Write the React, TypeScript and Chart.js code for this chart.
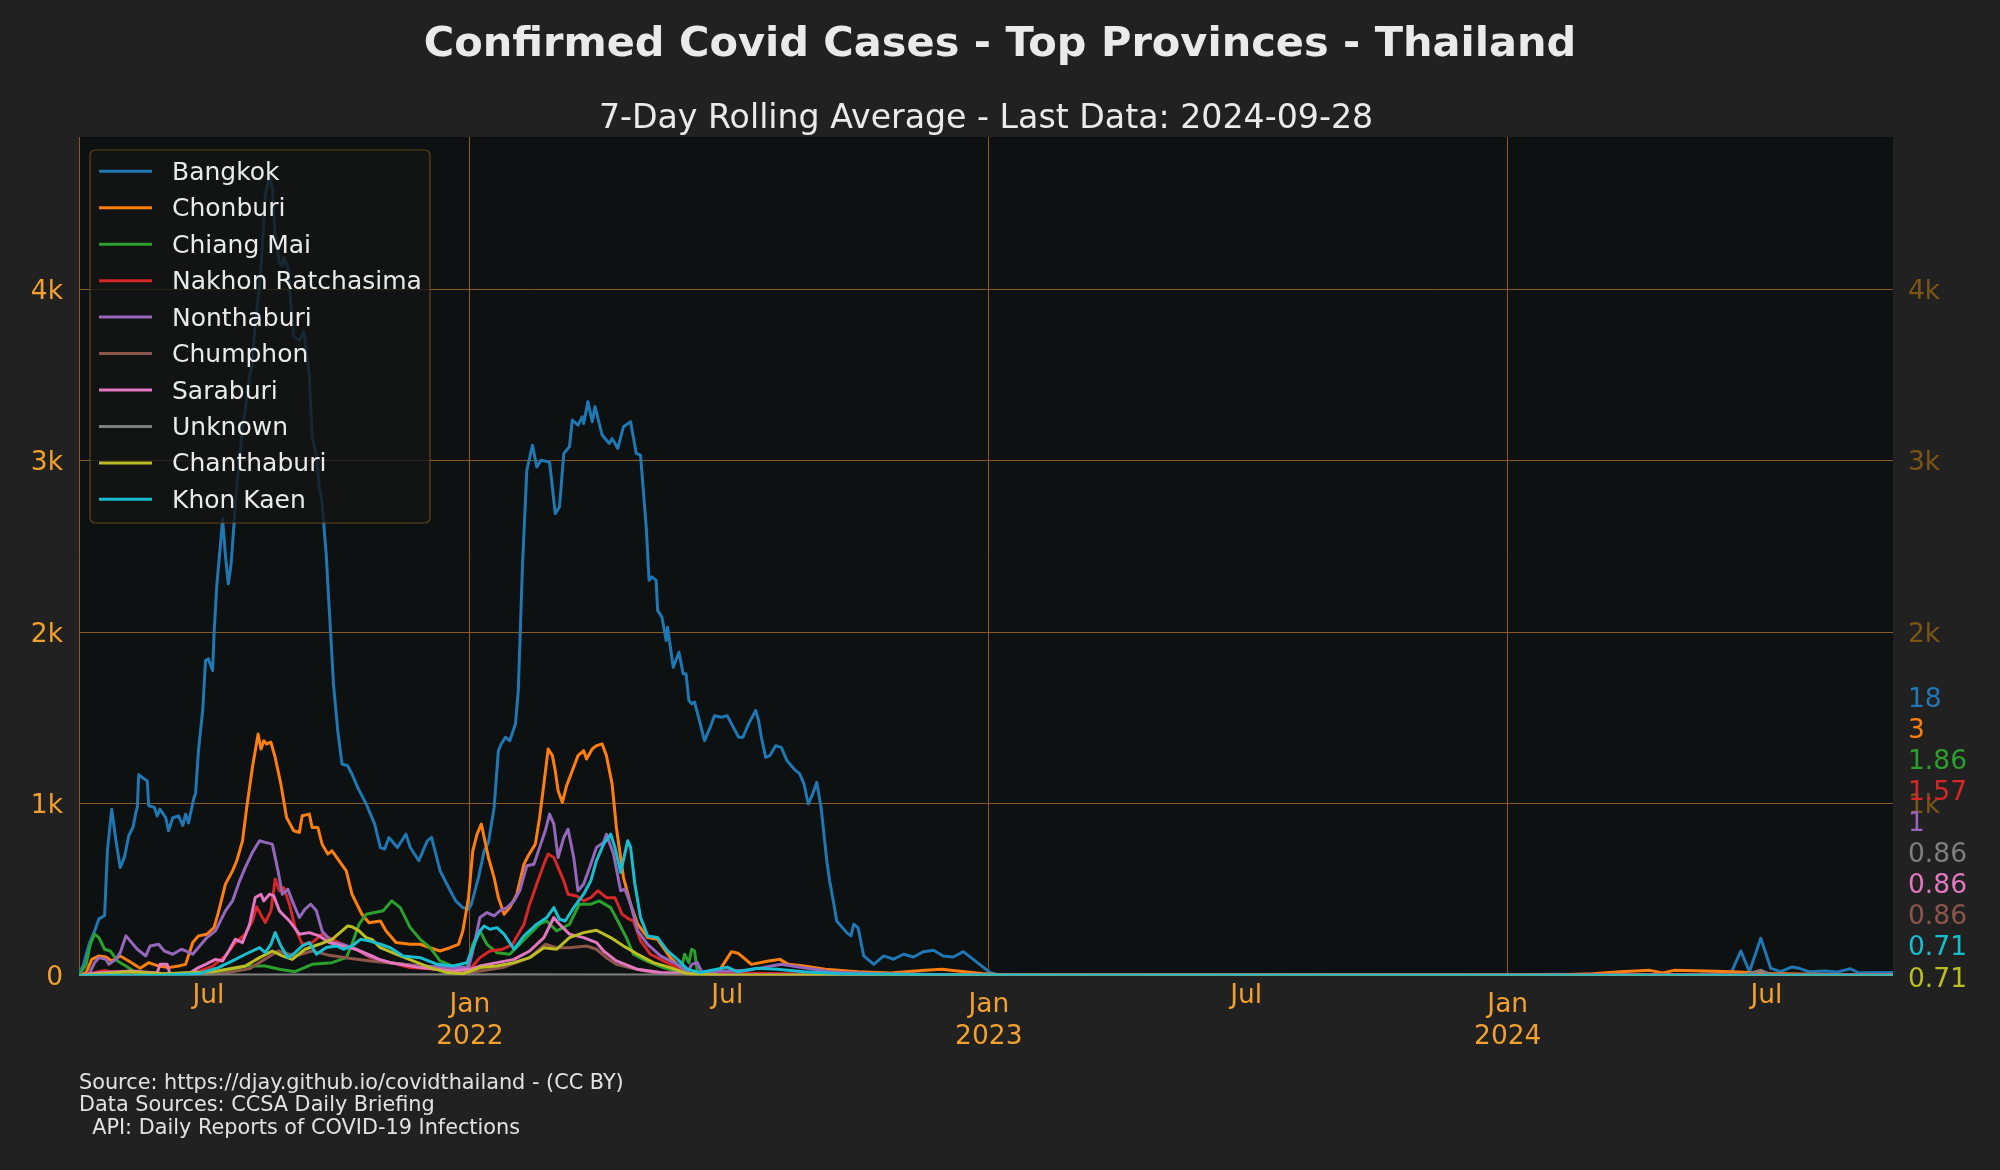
import React, { useEffect, useRef } from 'react';
import { Chart, registerables } from 'chart.js';

Chart.register(...registerables);

// ---------------- DATA ----------------
// x values are days since 2021-04-01 (first data day); last data day 2024-09-28 = day 1276
const START_DATE = '2021-04-01';
const LAST_DAY = 1276;

const seriesNames = ['Bangkok', 'Chonburi', 'Chiang Mai', 'Nakhon Ratchasima', 'Nonthaburi', 'Chumphon', 'Saraburi', 'Unknown', 'Chanthaburi', 'Khon Kaen'];
const seriesColors = ['#1f77b4', '#ff7f0e', '#2ca02c', '#d62728', '#9467bd', '#8c564b', '#e377c2', '#7f7f7f', '#bcbd22', '#17becf'];

// [day, 7-day average cases]
const bangkok = [[0,10],[3,60],[7,180],[11,260],[14,330],[18,350],[20,730],[23,970],[26,785],[29,630],[32,690],[35,815],[38,865],[40,950],[41,980],[42,1170],[46,1146],[48,1136],[49,990],[53,980],[55,930],[57,970],[61,920],[63,845],[66,920],[70,930],[73,875],[75,940],[77,890],[81,1040],[82,1060],[84,1310],[87,1545],[89,1836],[91,1846],[94,1778],[95,1994],[97,2284],[100,2560],[101,2662],[103,2450],[105,2284],[107,2400],[109,2629],[111,2853],[115,3184],[117,3300],[120,3495],[122,3573],[124,3806],[127,4020],[129,4254],[131,4546],[134,4663],[136,4585],[138,4313],[141,4157],[143,4137],[144,4186],[147,4128],[149,3917],[151,3723],[155,3703],[158,3752],[159,3703],[162,3495],[164,3145],[167,3028],[169,2853],[171,2755],[174,2443],[175,2286],[177,1994],[179,1700],[182,1428],[185,1233],[189,1223],[192,1175],[196,1097],[202,1000],[205,941],[208,883],[212,746],[215,737],[218,805],[224,746],[230,824],[233,746],[239,669],[245,785],[248,805],[254,610],[260,513],[265,435],[270,396],[274,386],[276,416],[281,571],[285,727],[288,775],[292,980],[295,1311],[297,1350],[300,1389],[303,1369],[307,1467],[309,1661],[312,2401],[315,2946],[319,3092],[322,2965],[325,3004],[331,2994],[335,2693],[338,2732],[341,3044],[345,3083],[347,3239],[351,3209],[354,3258],[355,3219],[358,3346],[361,3229],[363,3317],[368,3151],[373,3102],[375,3131],[379,3073],[383,3200],[388,3229],[392,3044],[395,3034],[399,2615],[401,2304],[403,2324],[406,2304],[407,2129],[410,2090],[413,1953],[414,2031],[418,1797],[422,1885],[425,1759],[427,1759],[429,1603],[431,1584],[433,1594],[437,1467],[440,1369],[444,1447],[447,1515],[452,1506],[456,1515],[459,1467],[464,1389],[467,1389],[471,1467],[476,1545],[478,1487],[480,1389],[483,1272],[486,1282],[490,1340],[494,1330],[498,1253],[503,1204],[507,1175],[510,1116],[513,1000],[516,1058],[519,1126],[522,980],[526,669],[528,552],[531,416],[533,318],[537,279],[540,250],[543,231],[545,299],[548,279],[552,114],[559,65],[566,114],[573,95],[580,124],[587,108],[594,139],[601,147],[608,114],[615,108],[622,139],[641,17],[648,2],[700,1],[800,1],[900,1],[1000,2],[1038,8],[1060,4],[1100,6],[1140,8],[1162,14],[1169,143],[1175,22],[1183,217],[1190,42],[1197,22],[1205,50],[1210,42],[1217,22],[1228,26],[1237,20],[1246,39],[1252,16],[1276,18]];

const chonburi = [[0,0],[5,17],[9,94],[14,114],[19,108],[23,85],[29,114],[35,85],[43,42],[49,75],[56,55],[63,46],[70,55],[75,65],[80,192],[84,231],[90,241],[95,280],[98,367],[103,533],[108,610],[111,669],[115,785],[118,980],[122,1214],[126,1408],[128,1321],[130,1369],[132,1350],[135,1360],[138,1272],[142,1116],[146,921],[151,844],[155,834],[157,931],[162,941],[164,863],[168,863],[171,766],[175,708],[178,727],[183,669],[188,610],[192,474],[199,357],[204,308],[212,318],[216,260],[223,192],[233,182],[240,182],[247,162],[254,143],[261,162],[267,182],[270,260],[274,454],[277,727],[280,824],[283,883],[286,766],[288,688],[292,571],[295,454],[299,357],[303,396],[308,474],[313,649],[316,698],[321,766],[324,921],[327,1116],[330,1321],[333,1282],[335,1194],[337,1077],[340,1009],[343,1107],[347,1194],[351,1282],[355,1311],[357,1262],[361,1321],[364,1340],[368,1350],[371,1282],[375,1116],[378,863],[383,571],[388,416],[393,299],[400,221],[407,211],[411,162],[416,104],[423,46],[430,12],[445,12],[451,36],[459,139],[464,128],[473,65],[485,85],[493,94],[499,65],[510,55],[525,36],[548,22],[571,15],[595,30],[607,36],[618,26],[635,11],[650,3],[700,2],[900,2],[1000,3],[1040,5],[1065,10],[1084,22],[1105,30],[1114,15],[1122,30],[1145,26],[1163,22],[1190,12],[1230,6],[1276,3]];

const chiangMai = [[0,0],[5,65],[8,182],[11,241],[14,221],[18,153],[22,143],[27,85],[33,55],[39,22],[47,7],[70,5],[95,8],[105,22],[117,55],[131,55],[141,36],[152,22],[164,65],[178,75],[188,104],[192,182],[197,299],[202,357],[208,367],[214,377],[220,435],[226,396],[233,279],[240,211],[247,162],[254,85],[263,55],[273,46],[277,182],[282,260],[287,182],[294,133],[303,124],[310,182],[317,241],[324,299],[329,318],[336,260],[345,299],[352,416],[360,416],[366,435],[374,396],[379,318],[385,221],[390,124],[399,85],[411,46],[423,17],[426,124],[429,75],[431,153],[433,143],[435,20],[445,12],[480,8],[550,5],[650,2],[1100,2],[1276,1.86]];

const nakhonRatchasima = [[0,0],[10,15],[18,30],[22,22],[40,15],[70,10],[84,22],[94,55],[103,114],[110,192],[117,241],[122,319],[125,400],[129,338],[131,309],[135,377],[138,562],[141,494],[144,513],[148,416],[152,280],[157,182],[164,192],[171,241],[178,211],[188,172],[197,143],[205,104],[219,75],[233,46],[252,36],[275,36],[282,104],[289,143],[298,153],[305,182],[313,299],[317,416],[322,533],[327,649],[330,708],[334,688],[337,630],[341,552],[344,474],[350,464],[355,435],[360,454],[365,494],[371,454],[377,454],[382,357],[387,328],[390,318],[395,202],[402,124],[411,85],[421,46],[430,7],[450,15],[500,10],[550,5],[650,2],[1100,3],[1276,1.57]];

const nonthaburi = [[0,0],[7,7],[11,75],[14,104],[19,94],[21,65],[26,94],[29,133],[33,231],[36,202],[41,153],[47,114],[50,172],[56,182],[60,143],[66,124],[72,153],[75,143],[80,124],[84,163],[90,221],[96,260],[103,377],[108,435],[113,552],[117,630],[122,718],[127,786],[131,776],[136,766],[140,610],[143,474],[147,503],[150,435],[155,338],[159,387],[163,416],[167,377],[171,260],[178,192],[185,182],[195,153],[204,114],[211,94],[219,75],[240,55],[263,46],[274,46],[277,143],[282,338],[287,367],[292,348],[296,377],[301,396],[306,435],[310,494],[315,640],[320,649],[324,747],[328,844],[331,941],[334,883],[337,688],[341,805],[344,853],[348,688],[351,494],[355,533],[360,649],[364,747],[369,776],[371,824],[376,708],[381,494],[384,503],[388,416],[393,260],[400,182],[409,114],[421,65],[428,17],[431,65],[435,75],[438,20],[450,25],[470,30],[494,65],[510,45],[530,20],[560,10],[650,2],[1100,2],[1276,1]];

const chumphon = [[0,0],[50,3],[100,10],[120,40],[140,143],[152,114],[164,143],[175,120],[190,100],[205,85],[228,65],[251,36],[275,17],[298,46],[317,104],[328,182],[336,162],[345,162],[357,172],[364,153],[371,104],[378,65],[392,36],[411,7],[500,2],[1276,0.86]];

const saraburi = [[0,0],[12,15],[37,26],[55,15],[57,65],[62,65],[64,10],[78,15],[84,46],[89,65],[96,94],[101,85],[106,153],[110,211],[115,192],[120,299],[124,455],[128,474],[130,435],[134,474],[137,464],[141,377],[148,318],[155,241],[162,250],[169,231],[176,192],[185,172],[195,153],[206,114],[211,94],[219,75],[240,46],[263,26],[275,36],[282,55],[294,75],[306,94],[317,143],[327,221],[334,338],[338,299],[345,241],[355,221],[364,192],[369,143],[378,85],[393,36],[409,17],[450,5],[1276,0.86]];

const unknown = [[0,0],[100,3],[300,5],[400,3],[500,1],[1000,1],[1160,2],[1172,6],[1183,30],[1190,5],[1276,0.86]];

const chanthaburi = [[0,0],[35,22],[60,10],[94,22],[117,55],[127,104],[136,143],[143,114],[150,94],[159,153],[169,182],[178,211],[185,260],[189,289],[192,284],[197,260],[202,221],[206,211],[212,162],[223,124],[235,85],[247,46],[259,17],[270,10],[282,46],[294,55],[306,75],[317,104],[327,162],[336,153],[345,221],[355,250],[364,264],[374,221],[383,172],[393,124],[404,75],[416,46],[428,10],[450,3],[1276,0.71]];

const khonKaen = [[0,0],[60,3],[84,10],[98,46],[108,85],[117,124],[127,163],[131,133],[135,182],[138,250],[142,172],[147,104],[152,133],[157,172],[162,192],[167,124],[174,163],[181,172],[186,153],[192,172],[198,211],[204,202],[212,182],[219,162],[228,114],[240,104],[252,65],[263,55],[273,75],[277,162],[282,260],[285,289],[289,270],[294,279],[299,241],[306,153],[313,231],[322,299],[329,338],[334,396],[338,328],[342,318],[348,396],[355,474],[360,552],[364,669],[369,766],[374,824],[377,747],[381,601],[386,786],[388,747],[391,533],[395,338],[400,231],[407,221],[414,143],[421,94],[428,36],[437,17],[456,49],[463,22],[477,42],[491,36],[510,22],[535,10],[600,4],[650,1],[1276,0.71]];

const seriesData = [bangkok, chonburi, chiangMai, nakhonRatchasima, nonthaburi, chumphon, saraburi, unknown, chanthaburi, khonKaen];

// x ticks: days since START_DATE
const xTickDays = [91, 275, 456, 640, 821, 1005, 1187];
const xTickMonths = ['Jul', 'Jan', 'Jul', 'Jan', 'Jul', 'Jan', 'Jul'];
const xTickYears = ['', '2022', '', '2023', '', '2024', ''];
const yTickValues = [0, 1000, 2000, 3000, 4000];
const rightTickValues = [1000, 2000, 3000, 4000];
const Y_MAX = 4889;

const titleText = 'Confirmed Covid Cases - Top Provinces - Thailand';
const subtitleText = '7-Day Rolling Average - Last Data: 2024-09-28';
const footerLines = ['Source: https://djay.github.io/covidthailand - (CC BY)', 'Data Sources: CCSA Daily Briefing', '  API: Daily Reports of COVID-19 Infections'];

// ---------------- STYLE ----------------
const FONT = '"DejaVu Sans", "Liberation Sans", sans-serif';
const FIG_BG = '#212121';
const PLOT_BG = '#0d1111';
const TICK_COLOR = '#f2a02e';
const RIGHT_TICK_COLOR = '#7a5616';
const GRID_COLOR = '#8a5a1e';
const TEXT_COLOR = '#eaeaea';
const TICK_SIZE = 26.5;

function fmtLast(v: number): string {
  return String(Math.round(v * 100) / 100);
}

const decorPlugin = {
  id: 'decor',
  beforeDraw(chart: any) {
    const { ctx, chartArea } = chart;
    ctx.save();
    ctx.fillStyle = FIG_BG;
    ctx.fillRect(0, 0, chart.width, chart.height);
    ctx.fillStyle = PLOT_BG;
    ctx.fillRect(chartArea.left, chartArea.top, chartArea.right - chartArea.left, chartArea.bottom - chartArea.top);
    ctx.restore();
  },
  afterDatasetsDraw(chart: any) {
    const { ctx } = chart;
    // legend
    const bx = 90, by = 150, bw = 340, bh = 373, r = 5;
    ctx.save();
    ctx.beginPath();
    ctx.moveTo(bx + r, by);
    ctx.arcTo(bx + bw, by, bx + bw, by + bh, r);
    ctx.arcTo(bx + bw, by + bh, bx, by + bh, r);
    ctx.arcTo(bx, by + bh, bx, by, r);
    ctx.arcTo(bx, by, bx + bw, by, r);
    ctx.closePath();
    ctx.fillStyle = 'rgba(20,20,20,0.8)';
    ctx.fill();
    ctx.strokeStyle = 'rgba(120,80,25,0.8)';
    ctx.lineWidth = 1.2;
    ctx.stroke();
    ctx.font = `25px ${FONT}`;
    ctx.textAlign = 'left';
    ctx.textBaseline = 'alphabetic';
    seriesNames.forEach((name, i) => {
      const ry = 171.3 + i * 36.45;
      ctx.strokeStyle = seriesColors[i];
      ctx.lineWidth = 3;
      ctx.beginPath();
      ctx.moveTo(99, ry);
      ctx.lineTo(152, ry);
      ctx.stroke();
      ctx.fillStyle = TEXT_COLOR;
      ctx.fillText(name, 172, ry + 8.5);
    });
    ctx.restore();
  },
  afterDraw(chart: any) {
    const { ctx, chartArea } = chart;
    const xs = chart.scales.x;
    const ys = chart.scales.y;
    ctx.save();
    // titles
    ctx.fillStyle = TEXT_COLOR;
    ctx.textAlign = 'center';
    ctx.textBaseline = 'alphabetic';
    ctx.font = `bold 41.5px ${FONT}`;
    ctx.fillText(titleText, chart.width / 2, 56);
    ctx.font = `33.2px ${FONT}`;
    ctx.fillText(subtitleText, (chartArea.left + chartArea.right) / 2, 128);

    // x tick labels
    ctx.fillStyle = TICK_COLOR;
    ctx.font = `${TICK_SIZE}px ${FONT}`;
    xTickDays.forEach((d, i) => {
      const px = xs.getPixelForValue(d);
      if (xTickYears[i]) {
        ctx.fillText(xTickMonths[i], px, 1011.5);
        ctx.fillText(xTickYears[i], px, 1043.7);
      } else {
        ctx.fillText(xTickMonths[i], px, 1003);
      }
    });

    // right-side last value labels
    const lastVals = seriesData.map((s) => s[s.length - 1][1]);
    const order = lastVals.map((v, i) => i).sort((a, b) => (lastVals[b] - lastVals[a]) || (b - a));
    const positions: number[] = new Array(order.length);
    let prev = Infinity;
    for (let k = order.length - 1; k >= 0; k--) {
      const idx = order[k];
      let c = ys.getPixelForValue(lastVals[idx]) + 1.6;
      if (c > prev - 31.1) c = prev - 31.1;
      positions[k] = c;
      prev = c;
    }
    ctx.textAlign = 'left';
    order.forEach((idx, k) => {
      ctx.fillStyle = seriesColors[idx];
      ctx.fillText(fmtLast(lastVals[idx]), chartArea.right + 15, positions[k] + 9.6);
    });

    // footer
    ctx.fillStyle = '#e2e2e2';
    ctx.font = `20.8px ${FONT}`;
    footerLines.forEach((line, i) => {
      ctx.fillText(line, chartArea.left, 1088.5 + i * 22.8);
    });
    ctx.restore();
  },
};

export default function App() {
  const ref = useRef<HTMLCanvasElement>(null);
  useEffect(() => {
    const canvas = ref.current;
    if (!canvas) return;
    const datasets = seriesData.map((pts, i) => ({
      label: seriesNames[i],
      data: pts.map((p) => ({ x: p[0], y: p[1] })),
      borderColor: seriesColors[i],
      backgroundColor: seriesColors[i],
      borderWidth: 3,
      pointRadius: 0,
      tension: 0,
      borderJoinStyle: 'round' as const,
      borderCapStyle: 'round' as const,
      fill: false,
      order: seriesData.length - i,
      yAxisID: 'y',
    }));
    const chart = new Chart(canvas, {
      type: 'line',
      data: { datasets },
      options: {
        animation: false,
        responsive: false,
        devicePixelRatio: 1,
        parsing: true,
        layout: { padding: { top: 137, left: 0, right: 0, bottom: 0 } },
        plugins: { legend: { display: false }, title: { display: false }, tooltip: { enabled: false } },
        scales: {
          x: {
            type: 'linear',
            min: 0,
            max: LAST_DAY,
            afterFit: (s: any) => { s.height = 194.5; },
            afterBuildTicks: (s: any) => { s.ticks = xTickDays.map((v) => ({ value: v })); },
            ticks: { display: false },
            grid: {
              drawTicks: false,
              lineWidth: 1,
              color: (c: any) => (c.tick && xTickYears[xTickDays.indexOf(c.tick.value)] ? GRID_COLOR : 'rgba(0,0,0,0)'),
            },
            border: { display: false },
          },
          y: {
            type: 'linear',
            position: 'left',
            min: 0,
            max: Y_MAX,
            afterFit: (s: any) => { s.width = 79; },
            afterBuildTicks: (s: any) => { s.ticks = yTickValues.map((v) => ({ value: v })); },
            ticks: {
              color: TICK_COLOR,
              font: { family: FONT, size: TICK_SIZE },
              padding: 16,
              labelOffset: 2.5,
              autoSkip: false,
              callback: (v: any) => (Number(v) === 0 ? '0' : Number(v) / 1000 + 'k'),
            },
            grid: {
              drawTicks: false,
              lineWidth: 1,
              color: (c: any) => (c.tick && c.tick.value === 0 ? 'rgba(0,0,0,0)' : GRID_COLOR),
            },
            border: { display: true, color: GRID_COLOR, width: 1 },
          },
          y2: {
            type: 'linear',
            position: 'right',
            min: 0,
            max: Y_MAX,
            afterFit: (s: any) => { s.width = 107; },
            afterBuildTicks: (s: any) => { s.ticks = rightTickValues.map((v) => ({ value: v })); },
            ticks: {
              color: RIGHT_TICK_COLOR,
              font: { family: FONT, size: TICK_SIZE },
              padding: 15,
              labelOffset: 2.5,
              autoSkip: false,
              callback: (v: any) => Number(v) / 1000 + 'k',
            },
            grid: { display: false, drawTicks: false },
            border: { display: false },
          },
        },
      } as any,
      plugins: [decorPlugin],
    });
    return () => chart.destroy();
  }, []);
  return (
    <div style={{ position: 'fixed', left: 0, top: 0, width: 2000, height: 1170, background: FIG_BG }}>
      <canvas ref={ref} width={2000} height={1170} style={{ display: 'block', width: 2000, height: 1170 }} />
    </div>
  );
}
